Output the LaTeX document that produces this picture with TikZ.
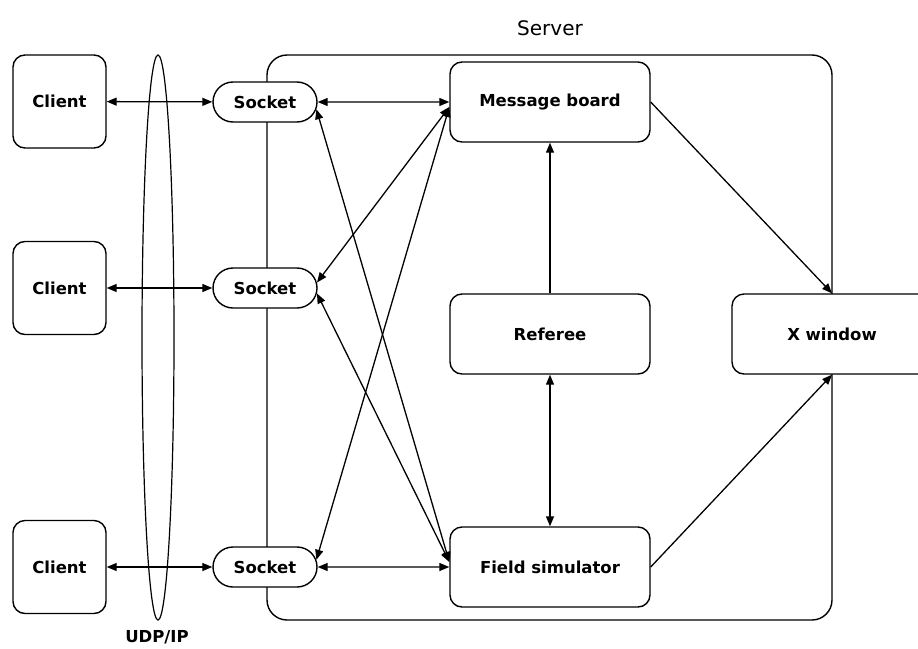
\documentclass[tikz,border=0pt]{standalone}
\usepackage{fontspec}
\setmainfont{DejaVu Sans}
\usepackage{tikz}
\usetikzlibrary{arrows.meta,shapes.misc,shapes.geometric}

\begin{document}
\begin{tikzpicture}[x=1pt, y=-1pt,
  >={Triangle[length=10pt,width=8pt]},
  lbl/.style={font=\fontsize{16.5}{18}\selectfont\bfseries},
  box/.style={draw, line width=1.4pt, rounded corners=12pt, fill=white, inner sep=0pt, lbl},
  clientbox/.style={box, minimum width=93pt, minimum height=93pt},
  modbox/.style={box, minimum width=200pt, minimum height=80pt},
  sockbox/.style={draw, line width=1.4pt, rounded rectangle, fill=white, inner sep=0pt,
    minimum width=104pt, minimum height=40pt, lbl},
  link/.style={line width=1.3pt}]
  \useasboundingbox (0,0) rectangle (918,648);
  % Server frame
  \node[draw, line width=1.4pt, rounded corners=20pt, minimum width=565pt,
    minimum height=565pt] (server) at (549.5,337.5) {};
  \node[font=\fontsize{20}{22}\selectfont] (serverlbl) at (550,28) {Server};
  % UDP/IP link
  \node[draw, ellipse, line width=1.2pt, inner sep=0pt, minimum width=32pt,
    minimum height=565pt] (udp) at (158,337.5) {};
  \node[lbl] (udplbl) at (157,637) {UDP/IP};
  % Clients and sockets
  \node[clientbox] (c1) at (59.5,101.5) {Client};
  \node[clientbox] (c2) at (59.5,288) {Client};
  \node[clientbox] (c3) at (59.5,567) {Client};
  \node[sockbox] (s1) at (265,102) {Socket};
  \node[sockbox] (s2) at (265,288) {Socket};
  \node[sockbox] (s3) at (265,567) {Socket};
  % Server modules
  \node[modbox] (msg) at (550,102) {Message board};
  \node[modbox] (ref) at (550,334) {Referee};
  \node[modbox] (field) at (550,567) {Field simulator};
  \node[modbox] (xwin) at (832,334) {X window};
  % Connections
  \foreach \i in {1,2,3}
    \draw[link, <->] (c\i) -- (s\i);
  \draw[link, <->] (s1) -- (msg);
  \draw[link, <->] (s3) -- (field);
  \draw[link, <->] (s1.-8) -- ([yshift=5pt]field.west);
  \draw[link, <->] (s2.6) -- ([yshift=-5pt]msg.west);
  \draw[link, <->] (s2.-6) -- ([yshift=5pt]field.west);
  \draw[link, <->] (s3.8) -- ([yshift=-5pt]msg.west);
  \draw[link, ->] (ref) -- (msg);
  \draw[link, <->] (ref) -- (field);
  \draw[link, ->] (msg.east) -- (xwin.north);
  \draw[link, ->] (field.east) -- (xwin.south);
\end{tikzpicture}
\end{document}
